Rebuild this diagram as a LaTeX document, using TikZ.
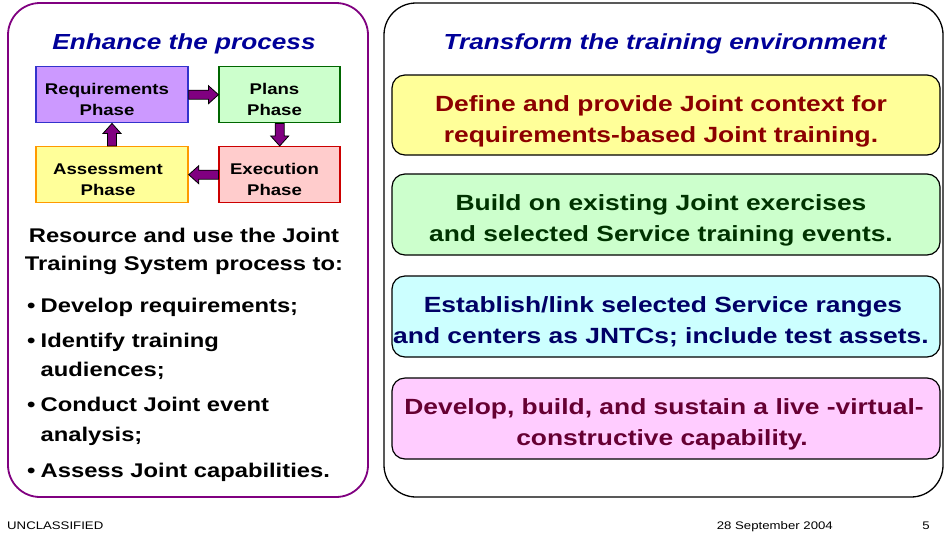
\documentclass[tikz,border=0pt]{standalone}
\usepackage{fontspec}
\setmainfont[FakeStretch=1.2]{Liberation Sans}
\usetikzlibrary{calc}
\definecolor{panelpurple}{RGB}{128,0,128}
\definecolor{titleblue}{RGB}{0,0,153}
\definecolor{reqfill}{RGB}{204,153,255}
\definecolor{reqdraw}{RGB}{51,51,204}
\definecolor{planfill}{RGB}{204,255,204}
\definecolor{plandraw}{RGB}{0,102,0}
\definecolor{assfill}{RGB}{255,255,153}
\definecolor{assdraw}{RGB}{255,153,0}
\definecolor{exefill}{RGB}{255,204,204}
\definecolor{exedraw}{RGB}{204,0,0}
\definecolor{boxyellow}{RGB}{255,255,153}
\definecolor{boxgreen}{RGB}{204,255,204}
\definecolor{boxcyan}{RGB}{204,255,255}
\definecolor{boxpink}{RGB}{255,204,255}
\definecolor{txtred}{RGB}{140,0,0}
\definecolor{txtgreen}{RGB}{0,51,0}
\definecolor{txtnavy}{RGB}{0,0,102}
\definecolor{txtmaroon}{RGB}{102,0,51}
\newcommand\fsz[2]{\fontsize{#1}{#2}\selectfont}
\newcommand\blockarrow[2]{%
  \draw[blockarr] let \p1=(#1), \p2=(#2),
    \n1={atan2(\y2-\y1,\x2-\x1)}, \n2={veclen(\x2-\x1,\y2-\y1)} in
    [shift={(\p1)}, rotate=\n1]
    (0pt,-4.5pt) -- ({(\n2-10)*1pt},-4.5pt) -- ({(\n2-10)*1pt},-9pt)
    -- ({\n2*1pt},0pt) -- ({(\n2-10)*1pt},9pt) -- ({(\n2-10)*1pt},4.5pt)
    -- (0pt,4.5pt) -- cycle;}
\begin{document}
\begin{tikzpicture}[x=1pt,y=-1pt,
  panel/.style={rounded corners=32pt, inner sep=0, minimum width=#1},
  phase/.style={draw, line width=1.5pt, inner sep=0, minimum width=152pt, minimum height=56pt},
  phasesm/.style={draw, line width=1.5pt, inner sep=0, minimum width=121pt, minimum height=56pt},
  phtext/.style={anchor=base, inner sep=0, font=\fsz{15.5}{18}\bfseries, text=black},
  rbox/.style={draw=black, line width=1.2pt, rounded corners=13pt, inner sep=0, minimum width=548pt},
  rtext/.style={anchor=base, inner sep=0, font=\fsz{22}{26}\bfseries},
  title/.style={anchor=base, inner sep=0, font=\fsz{21.8}{26}\bfseries\itshape, text=titleblue},
  ltext/.style={anchor=base, inner sep=0, font=\fsz{19.8}{24}\bfseries, text=black},
  bultext/.style={anchor=base west, inner sep=0, font=\fsz{19.8}{24}\bfseries, text=black},
  foot/.style={anchor=base west, inner sep=0, font=\fsz{11}{13}, text=black},
  blockarr/.style={fill=panelpurple, draw=black, line width=0.8pt, line join=miter}
]
\useasboundingbox (0,0) rectangle (944,539);
\fill[white] (0,0) rectangle (944,539);

% panels
\node[panel=360pt, draw=panelpurple, line width=1.8pt, minimum height=494pt] (lp) at (188,250) {};
\node[panel=559pt, draw=black, line width=1.3pt, minimum height=494pt] (rp) at (663.5,250) {};

% left title
\node[title] (ltitle) at (184,49.3) {Enhance the process};

% phase boxes
\node[phase, fill=reqfill, draw=reqdraw] (req) at (112,94.7) {};
\node[phasesm, fill=planfill, draw=plandraw] (plan) at (279.7,94.7) {};
\node[phase, fill=assfill, draw=assdraw] (ass) at (112,174.7) {};
\node[phasesm, fill=exefill, draw=exedraw] (exe) at (279.7,174.7) {};

\node[phtext] (reqa) at (107,94.5) {Requirements};
\node[phtext] (reqb) at (107,115.5) {Phase};
\node[phtext] (plana) at (274.5,94.5) {Plans};
\node[phtext] (planb) at (274.5,115.5) {Phase};
\node[phtext] (assa) at (108,174) {Assessment};
\node[phtext] (assb) at (108,195.5) {Phase};
\node[phtext] (exea) at (274.5,174) {Execution};
\node[phtext] (exeb) at (274.5,195.5) {Phase};

% block arrows
\blockarrow{req.east}{plan.west}
\blockarrow{plan.south}{exe.north}
\blockarrow{exe.west}{ass.east}
\blockarrow{ass.north}{req.south}

% left text
\node[ltext] (res1) at (184,242.3) {Resource and use the Joint};
\node[ltext] (res2) at (184,270) {Training System process to:};

\node[bultext] (d1) at (27,312) {•};
\node[bultext] (b1) at (40.5,312) {Develop requirements;};
\node[bultext] (d2) at (27,347.5) {•};
\node[bultext] (b2a) at (40.5,347.5) {Identify training};
\node[bultext] (b2b) at (40.5,376.5) {audiences;};
\node[bultext] (d3) at (27,411.5) {•};
\node[bultext] (b3a) at (40.5,411.5) {Conduct Joint event};
\node[bultext] (b3b) at (40.5,441) {analysis;};
\node[bultext] (d4) at (27,477.5) {•};
\node[bultext] (b4) at (40.5,477.5) {Assess Joint capabilities.};

% right title
\node[title] (rtitle) at (665,49.3) {Transform the training environment};

% right boxes
\node[rbox, fill=boxyellow, minimum height=80pt] (r1) at (666,115) {};
\node[rbox, fill=boxgreen, minimum height=81pt] (r2) at (666,214.5) {};
\node[rbox, fill=boxcyan, minimum height=81pt] (r3) at (666,316.5) {};
\node[rbox, fill=boxpink, minimum height=81pt] (r4) at (666,418.5) {};

\node[rtext, text=txtred] (r1a) at (661,111) {Define and provide Joint context for};
\node[rtext, text=txtred] (r1b) at (661,142) {requirements-based Joint training.};
\node[rtext, text=txtgreen] (r2a) at (661,210.5) {Build on existing Joint exercises};
\node[rtext, text=txtgreen] (r2b) at (661,241.5) {and selected Service training events.};
\node[rtext, text=txtnavy] (r3a) at (663,312.5) {Establish/link selected Service ranges};
\node[rtext, text=txtnavy] (r3b) at (661,343.5) {and centers as JNTCs; include test assets.};
\node[rtext, text=txtmaroon] (r4a) at (664,414.5) {Develop, build, and sustain a live -virtual-};
\node[rtext, text=txtmaroon] (r4b) at (662,445.5) {constructive capability.};

% footer
\node[foot] (uncl) at (7,529) {UNCLASSIFIED};
\node[foot, anchor=base east] (date) at (833,529) {28 September 2004};
\node[foot, anchor=base east] (pg) at (930,529) {5};
\end{tikzpicture}
\end{document}
